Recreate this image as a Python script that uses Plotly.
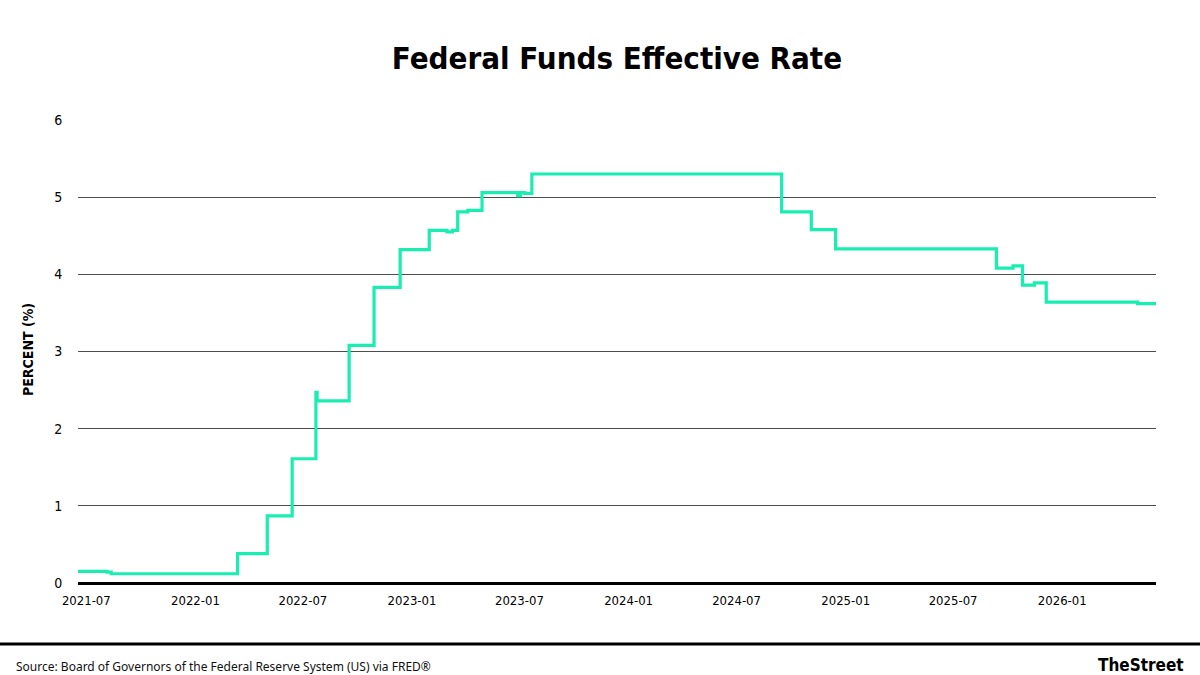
import plotly.graph_objects as go

# step points of the effective rate (date the level starts, percent)
dates = [
    '2021-06-17', '2021-08-05', '2021-08-12', '2022-03-13', '2022-05-02',
    '2022-06-13', '2022-07-23', '2022-07-25', '2022-09-17', '2022-10-29',
    '2022-12-12', '2023-01-30', '2023-03-01', '2023-03-10', '2023-03-19',
    '2023-04-05', '2023-04-29', '2023-06-28', '2023-07-03', '2023-07-10',
    '2023-07-22', '2024-09-15', '2024-11-04', '2024-12-15', '2025-09-12',
    '2025-10-10', '2025-10-26', '2025-11-15', '2025-12-05', '2026-05-08',
    '2026-06-08',
]
rates = [
    0.15, 0.14, 0.12, 0.38, 0.87,
    1.61, 2.47, 2.36, 3.08, 3.83,
    4.32, 4.57, 4.55, 4.57, 4.81,
    4.83, 5.06, 5.02, 5.06, 5.05,
    5.30, 4.81, 4.58, 4.33, 4.08,
    4.11, 3.86, 3.89, 3.64, 3.62,
    3.62,
]
y_ticks = [0, 1, 2, 3, 4, 5, 6]

W, H = 1200, 675
L, R, T, B = 78, 44, 120, 92
COND = 'Liberation Sans Narrow, DejaVu Sans Condensed, Roboto, sans-serif'


def px_x(x):
    return (x - L) / (W - L - R)


def px_y(y):
    return (H - B - y) / (H - T - B)


fig = go.Figure()
fig.add_trace(go.Scatter(
    x=dates, y=rates, mode='lines', line_shape='hv',
    line=dict(color='#19edb2', width=3.2), hoverinfo='x+y',
))

fig.update_layout(
    width=W, height=H,
    margin=dict(l=L, r=R, t=T, b=B),
    paper_bgcolor='white', plot_bgcolor='white',
    showlegend=False,
    title=dict(text='<b>Federal Funds Effective Rate</b>', x=0.5, xref='paper',
               y=1 - 58 / H, yanchor='middle',
               font=dict(family=COND, size=31, color='black')),
    font=dict(family=COND, color='black'),
)

fig.update_xaxes(
    type='date', range=['2021-06-17', '2026-06-08'],
    tick0='2021-07-01', dtick='M6', tickformat='%Y-%m',
    showgrid=False, zeroline=False, showline=False,
    ticks='outside', ticklen=5, tickcolor='rgba(0,0,0,0)',
    tickfont=dict(family=COND, size=13, color='black'),
)
fig.update_yaxes(
    range=[0, 6], tickvals=y_ticks,
    showgrid=True, gridcolor='#4d4d4d', gridwidth=1.3,
    zeroline=True, zerolinecolor='black', zerolinewidth=2.5,
    showline=False,
    ticks='outside', ticklen=12, tickcolor='rgba(0,0,0,0)',
    tickfont=dict(family=COND, size=14, color='black'),
)

# y axis title
fig.add_annotation(
    text='<b>PERCENT (%)</b>', textangle=-90, showarrow=False,
    xref='paper', yref='paper', x=px_x(28), y=px_y(350),
    xanchor='center', yanchor='middle',
    font=dict(family=COND, size=14, color='black'),
)

# footer rule
fig.add_shape(
    type='line', xref='paper', yref='paper',
    x0=px_x(0), x1=px_x(W), y0=px_y(644), y1=px_y(644),
    line=dict(color='black', width=3),
)
fig.add_annotation(
    text='Source: Board of Governors of the Federal Reserve System (US) via FRED®',
    showarrow=False, xref='paper', yref='paper', x=px_x(14), y=px_y(666),
    xanchor='left', yanchor='middle',
    font=dict(family='Noto Sans, Open Sans, sans-serif', size=12, color='#111111'),
)
fig.add_annotation(
    text='<b>TheStreet</b>', showarrow=False, xref='paper', yref='paper',
    x=px_x(1186), y=px_y(665), xanchor='right', yanchor='middle',
    font=dict(family=COND, size=17, color='black'),
)

fig.write_html('out.html', config={'displayModeBar': False},
               post_script="document.body.style.margin='0';")
